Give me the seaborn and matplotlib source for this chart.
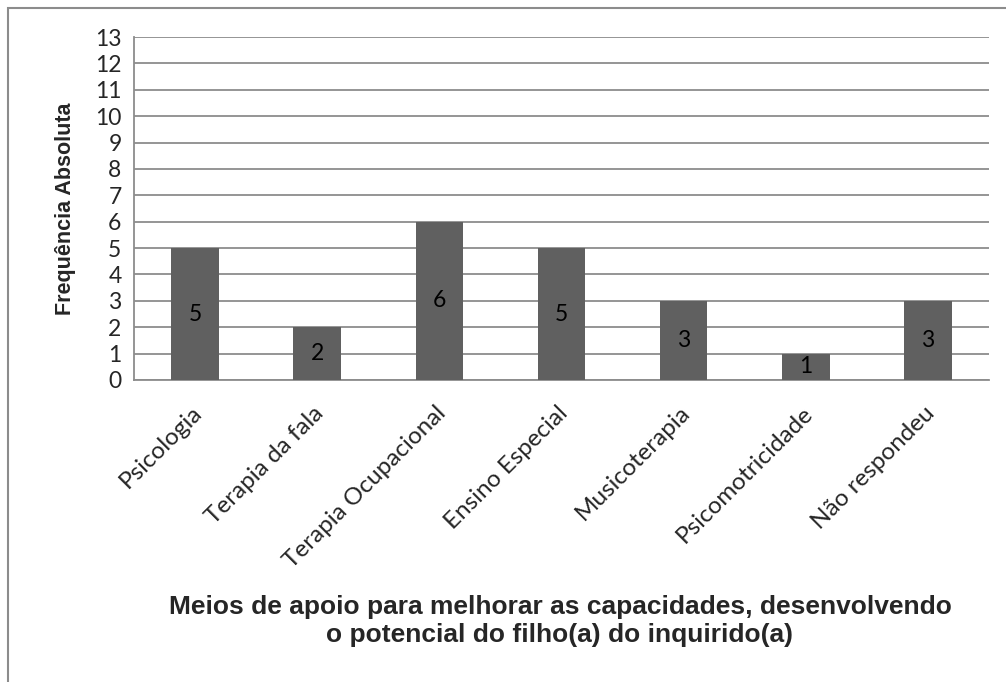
import matplotlib
matplotlib.use("Agg")
import matplotlib.pyplot as plt
import matplotlib.transforms as mtransforms
import seaborn as sns
import pandas as pd
from matplotlib.patches import Rectangle

# data
categorias = ["Psicologia", "Terapia da fala", "Terapia Ocupacional",
              "Ensino Especial", "Musicoterapia", "Psicomotricidade", "Não respondeu"]
frequencias = [5, 2, 6, 5, 3, 1, 3]

df = pd.DataFrame({"categoria": categorias, "freq": frequencias})

sns.set_style("white")
plt.rcParams["font.family"] = ["Lato", "DejaVu Sans"]

fig = plt.figure(figsize=(10.06, 6.82), dpi=100)
ax = fig.add_axes([134 / 1006, 1 - 380 / 682, (989 - 134) / 1006, (380 - 37) / 682])

sns.barplot(data=df, x="categoria", y="freq", color="#606060", width=0.39,
            saturation=1, linewidth=0, ax=ax, zorder=3)

ax.set_ylim(0, 13)
ax.set_xlim(-0.5, len(categorias) - 0.5)
ax.set_yticks(range(0, 14))
ax.yaxis.grid(True, color="#8c8c8c", linewidth=1.3, zorder=0)
for s in ["top", "right"]:
    ax.spines[s].set_visible(False)
for s in ["left", "bottom"]:
    ax.spines[s].set_color("#8c8c8c")
    ax.spines[s].set_linewidth(1.3)

# category boundary ticks on x axis
ax.set_xticks([i - 0.5 for i in range(len(categorias) + 1)], minor=True)
ax.tick_params(axis="x", which="minor", length=7, color="#8c8c8c", width=1.3)
ax.tick_params(axis="x", which="major", length=0, pad=16)
ax.tick_params(axis="y", length=7, color="#8c8c8c", width=1.3, labelsize=16.5, pad=2)
ax.set_xticks(range(len(categorias)))
ax.set_xticklabels(categorias, rotation=45, ha="right", rotation_mode="anchor",
                   fontsize=17.5)
# nudge the rotated labels slightly left
shift = mtransforms.ScaledTranslation(-4 / 100, 0, fig.dpi_scale_trans)
for lbl in ax.get_xticklabels():
    lbl.set_transform(lbl.get_transform() + shift)

# value labels in the middle of each bar
for i, v in enumerate(frequencias):
    ax.text(i, v / 2, str(v), ha="center", va="center", fontsize=16.5, color="black",
            zorder=4)

ax.set_xlabel("")
ax.set_ylabel("Frequência Absoluta", fontsize=15.5, fontweight="bold",
              family="Liberation Sans", labelpad=14)

fig.text(560 / 1006, 1 - 621 / 682,
         "Meios de apoio para melhorar as capacidades, desenvolvendo\no potencial do filho(a) do inquirido(a)",
         ha="center", va="center", fontsize=19, fontweight="bold",
         family="Liberation Sans", linespacing=1.2)

# outer chart frame (only left and top edges visible)
fig.patches.append(Rectangle((8 / 1006, -0.1), 1.2, 1 - 8 / 682 + 0.1,
                             transform=fig.transFigure, fill=False,
                             edgecolor="#8c8c8c", linewidth=1.5))

fig.savefig("out.png", dpi=100)
